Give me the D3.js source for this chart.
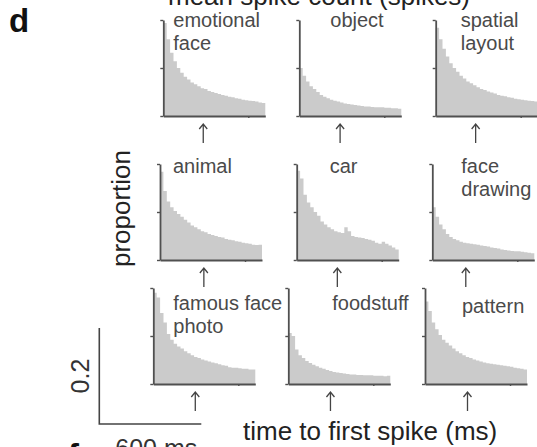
<!DOCTYPE html>
<html>
<head>
<meta charset="utf-8">
<script src="https://cdn.jsdelivr.net/npm/d3@7"></script>
<style>
  html, body { margin: 0; padding: 0; background: #fff; }
  svg { display: block; font-family: "Liberation Sans", Arial, Helvetica, sans-serif; }
</style>
</head>
<body>
<svg id="chart" width="537" height="447"></svg>
<script>
// Stimulus categories, in reading order (3 x 3 grid)
const categories = [
  "emotional face", "object", "spatial layout",
  "animal", "car", "face drawing",
  "famous face photo", "foodstuff", "pattern"
];

// Bin width of the first-spike latency histograms (ms); 30 bins cover 0-600 ms
const binWidth = 20;

// Proportion of trials per latency bin, one array per category
const emotionalFace = [.194,.160,.132,.114,.100,.090,.082,.076,.070,.066,.062,.058,.056,.052,.050,.048,.046,.044,.042,.040,.039,.037,.036,.034,.033,.032,.031,.030,.028,.027];
const object = [.100,.084,.072,.062,.056,.050,.044,.040,.037,.034,.032,.030,.028,.026,.025,.024,.023,.022,.021,.020,.020,.019,.018,.018,.018,.017,.017,.016,.016,.015];
const spatialLayout = [.184,.160,.140,.124,.110,.100,.092,.084,.078,.072,.068,.064,.060,.056,.054,.051,.049,.047,.044,.042,.041,.039,.038,.036,.035,.034,.033,.032,.031,.030];
const animal = [.184,.144,.122,.110,.102,.096,.090,.084,.078,.072,.068,.064,.060,.058,.054,.052,.050,.048,.047,.044,.042,.041,.039,.038,.036,.035,.034,.032,.031,.032];
const car = [.186,.170,.136,.120,.110,.100,.092,.080,.074,.068,.064,.060,.058,.056,.068,.060,.050,.048,.047,.046,.044,.042,.040,.036,.034,.038,.034,.030,.026,.022];
const faceDrawing = [.110,.090,.074,.064,.054,.048,.044,.041,.038,.036,.035,.034,.033,.032,.030,.029,.028,.026,.025,.024,.022,.021,.020,.019,.018,.018,.017,.016,.015,.014];
const famousFacePhoto = [.190,.180,.148,.128,.104,.092,.084,.078,.074,.068,.064,.060,.056,.054,.051,.049,.047,.045,.043,.041,.039,.038,.035,.034,.034,.033,.032,.032,.030,.030];
const foodstuff = [.106,.100,.072,.060,.054,.048,.044,.040,.037,.034,.032,.029,.027,.025,.024,.023,.022,.021,.020,.020,.019,.019,.018,.018,.018,.017,.017,.017,.016,.017];
const pattern = [.172,.152,.128,.114,.102,.092,.086,.080,.074,.068,.064,.060,.056,.054,.051,.049,.047,.045,.043,.042,.041,.040,.039,.038,.037,.036,.034,.033,.032,.030];

const histograms = [emotionalFace, object, spatialLayout, animal, car, faceDrawing, famousFacePhoto, foodstuff, pattern];

// Mean first-spike latency per category (ms), marked with an arrow
const meanLatency = [235, 240, 235, 258, 239, 197, 247, 248, 250];

// Axis ticks
const yTicks = [0, 0.1, 0.2];
const xTicks = [500];
const scaleBarProportion = 0.2;
const scaleBarTime = 600;

// ---- layout ----
const panelW = 102, panelH = 96;
const panelPos = [
  {x: 163.3, y: 20}, {x: 299.3, y: 20}, {x: 435.7, y: 20},
  {x: 160,   y: 164}, {x: 296.7, y: 164}, {x: 432.3, y: 164},
  {x: 153.3, y: 288}, {x: 288.3, y: 288}, {x: 425,   y: 288}
];
// label placement relative to panel origin: dx, dy of first baseline
const labelPos = [
  {dx: 10, dy: 7}, {dx: 31, dy: 7}, {dx: 25, dy: 7},
  {dx: 13, dy: 9}, {dx: 33, dy: 9}, {dx: 29, dy: 9},
  {dx: 20, dy: 22}, {dx: 44, dy: 22}, {dx: 37, dy: 25}
];
const labelLines = [
  ["emotional", "face"], ["object"], ["spatial", "layout"],
  ["animal"], ["car"], ["face", "drawing"],
  ["famous face", "photo"], ["foodstuff"], ["pattern"]
];

const axisColor = "#505050";
const fillColor = "#cbcbcb";
const textGray = "#4a4a4a";

const svg = d3.select("#chart");

const x = d3.scaleLinear().domain([0, 600]).range([0, panelW]);
const y = d3.scaleLinear().domain([0, 0.2]).range([panelH, 0]);

const area = d3.area()
  .curve(d3.curveStepAfter)
  .x(d => x(d.t))
  .y0(panelH)
  .y1(d => y(d.v));

histograms.forEach((values, i) => {
  const p = panelPos[i];
  const g = svg.append("g").attr("transform", `translate(${p.x},${p.y})`);

  const pts = values.map((v, k) => ({t: k * binWidth, v}));
  pts.push({t: values.length * binWidth, v: values[values.length - 1]});

  g.append("path")
    .attr("d", area(pts))
    .attr("fill", fillColor);

  // y axis
  const ya = g.append("g")
    .call(d3.axisLeft(y).tickValues(yTicks).tickSize(3).tickSizeOuter(0).tickFormat(""));
  // x axis
  const xa = g.append("g")
    .attr("transform", `translate(0,${panelH})`)
    .call(d3.axisBottom(x).tickValues(xTicks).tickSize(2).tickSizeOuter(0).tickFormat(""));
  [ya, xa].forEach(a => {
    a.select(".domain").attr("stroke", axisColor).attr("stroke-width", 1.8);
    a.selectAll(".tick line").attr("stroke", axisColor).attr("stroke-width", 1.4);
  });

  // category label
  const lp = labelPos[i];
  const t = g.append("text")
    .attr("x", lp.dx).attr("y", lp.dy)
    .attr("fill", textGray)
    .attr("font-size", 20);
  labelLines[i].forEach((line, j) => {
    t.append("tspan").attr("x", lp.dx).attr("dy", j === 0 ? 0 : 23).text(line);
  });

  // mean latency arrow
  const ax = x(meanLatency[i]);
  const a0 = panelH + 27, a1 = panelH + 8;
  g.append("path")
    .attr("d", `M${ax},${a0}V${a1}M${ax - 4},${a1 + 5}L${ax},${a1}L${ax + 4},${a1 + 5}`)
    .attr("fill", "none")
    .attr("stroke", "#444")
    .attr("stroke-width", 1.3);
});

// scale bars
const sb = svg.append("g").attr("transform", "translate(99.3,424)");
const sbY = d3.scaleLinear().domain([0, 0.2]).range([0, -panelH]);
sb.append("path")
  .attr("d", `M${x(scaleBarTime)},0H0V${sbY(scaleBarProportion)}`)
  .attr("fill", "none").attr("stroke", "#444").attr("stroke-width", 1.6);
sb.append("text")
  .attr("transform", `translate(-10,${sbY(scaleBarProportion) / 2}) rotate(-90)`)
  .attr("text-anchor", "middle")
  .attr("font-size", 25).attr("fill", "#333")
  .text(String(scaleBarProportion));
sb.append("text")
  .attr("x", 16).attr("y", 33)
  .attr("font-size", 25).attr("fill", "#333")
  .text(scaleBarTime + " ms");

// axis titles
svg.append("text")
  .attr("x", 168).attr("y", 5)
  .attr("font-size", 26).attr("fill", "#222")
  .text("mean spike count (spikes)");
svg.append("text")
  .attr("x", 243).attr("y", 440)
  .attr("font-size", 26).attr("fill", "#222")
  .text("time to first spike (ms)");
svg.append("text")
  .attr("transform", "translate(130,208.5) rotate(-90)")
  .attr("text-anchor", "middle")
  .attr("font-size", 26).attr("fill", "#222")
  .text("proportion");

// panel letters
svg.append("text")
  .attr("x", 9).attr("y", 32)
  .attr("font-size", 33).attr("font-weight", "bold").attr("fill", "#111")
  .text("d");
svg.append("text")
  .attr("x", 68).attr("y", 467)
  .attr("font-size", 33).attr("font-weight", "bold").attr("fill", "#111")
  .text("f");
</script>
</body>
</html>
